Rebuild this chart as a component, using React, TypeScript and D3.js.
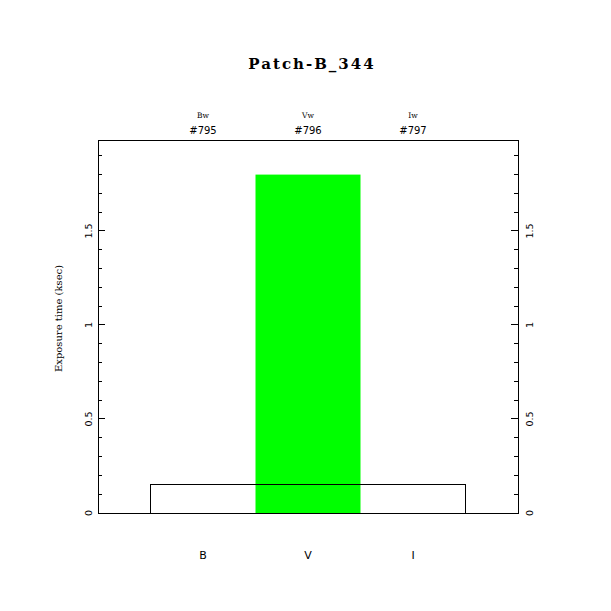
import React from "react";
import * as d3 from "d3";

const title = "Patch-B_344";
const categories = ["B", "V", "I"];
const filterNames = ["Bw", "Vw", "Iw"];
const filterIds = ["#795", "#796", "#797"];
const exposures = [0, 1.8, 0];
const baseBand = { from: 0.5, to: 3.5, value: 0.15 };
const yMajorTicks = [0, 0.5, 1, 1.5];
const yMinorTicks = d3.range(0, 20).map((i) => i / 10);
const yLabel = "Exposure time (ksec)";

const W = 611;
const H = 611;
const L = 98, R = 518, T = 140, B = 513;

export default function App() {
  const x = d3.scaleLinear().domain([0, 4]).range([L, R]);
  const y = d3.scaleLinear().domain([0, 1.984]).range([B, T]);
  const serif = "'DejaVu Serif', 'Liberation Serif', serif";
  const sans = "'DejaVu Sans', 'Liberation Sans', sans-serif";
  return (
    <svg width={W} height={H} style={{ position: "absolute", left: 0, top: 0, background: "#fff" }}>
      <rect width={W} height={H} fill="#fff" />
      <text x={312} y={69} textAnchor="middle" fontFamily={serif} fontWeight="bold" fontSize={15} letterSpacing={2}>
        {title}
      </text>
      {categories.map((c, i) => (
        <g key={c}>
          <text x={x(i + 1)} y={118} textAnchor="middle" fontFamily={serif} fontSize={7.5}>
            {filterNames[i]}
          </text>
          <text x={x(i + 1)} y={134} textAnchor="middle" fontFamily={sans} fontSize={10}>
            {filterIds[i]}
          </text>
          <text x={x(i + 1)} y={559} textAnchor="middle" fontFamily={sans} fontSize={11}>
            {c}
          </text>
        </g>
      ))}
      {exposures.map((v, i) =>
        v > 0 ? (
          <rect
            key={i}
            x={x(i + 0.5)}
            y={y(v)}
            width={x(i + 1.5) - x(i + 0.5)}
            height={y(0) - y(v)}
            fill="#00ff00"
          />
        ) : null
      )}
      <rect
        x={x(baseBand.from)}
        y={y(baseBand.value)}
        width={x(baseBand.to) - x(baseBand.from)}
        height={y(0) - y(baseBand.value)}
        fill="none"
        stroke="#000"
        strokeWidth={1}
        shapeRendering="crispEdges"
      />
      <rect x={L} y={T} width={R - L} height={B - T} fill="none" stroke="#000" strokeWidth={1} shapeRendering="crispEdges" />
      {yMinorTicks.map((t) => {
        const major = yMajorTicks.some((m) => Math.abs(m - t) < 1e-9);
        const len = major ? 7 : 4;
        return (
          <g key={t} shapeRendering="crispEdges">
            <line x1={L} x2={L + len} y1={y(t)} y2={y(t)} stroke="#000" />
            <line x1={R} x2={R - len} y1={y(t)} y2={y(t)} stroke="#000" />
          </g>
        );
      })}
      {yMajorTicks.map((t) => (
        <g key={"l" + t}>
          <text transform={`translate(92,${y(t)}) rotate(-90)`} textAnchor="middle" fontFamily={sans} fontSize={9.5}>
            {t}
          </text>
          <text transform={`translate(533,${y(t)}) rotate(-90)`} textAnchor="middle" fontFamily={sans} fontSize={9.5}>
            {t}
          </text>
        </g>
      ))}
      <text transform={`translate(62,${(T + B) / 2 - 8}) rotate(-90)`} textAnchor="middle" fontFamily={serif} fontSize={10}>
        {yLabel}
      </text>
    </svg>
  );
}
